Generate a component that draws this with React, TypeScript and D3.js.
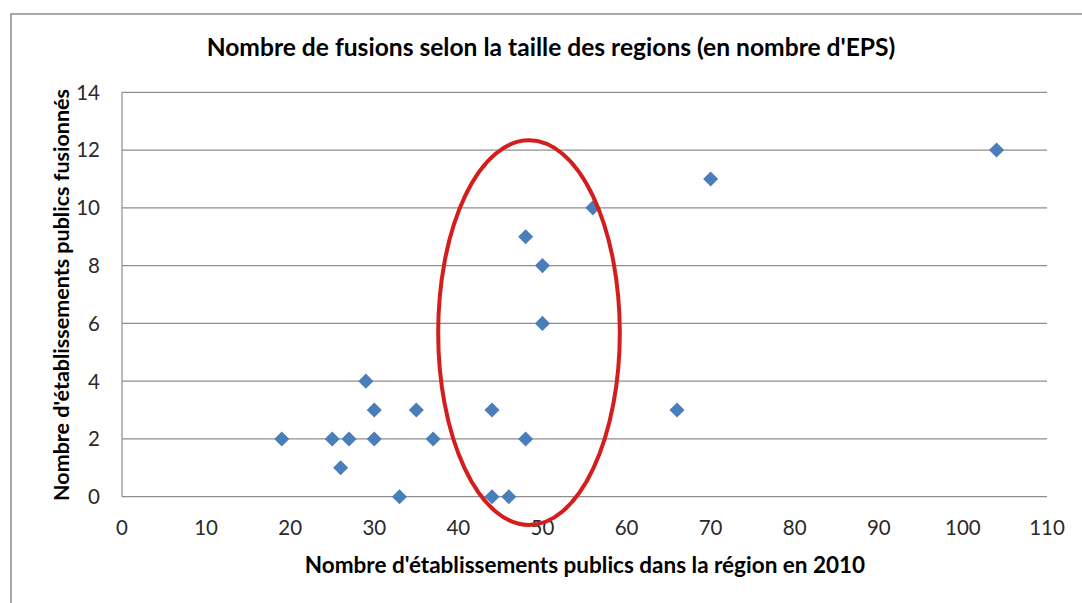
import React from "react";
import * as d3 from "d3";

const xValues = [19, 25, 26, 27, 29, 30, 30, 33, 35, 37, 44, 44, 46, 48, 48, 50, 50, 56, 66, 70, 104];
const yValues = [2, 2, 1, 2, 4, 3, 2, 0, 3, 2, 3, 0, 0, 2, 9, 8, 6, 10, 3, 11, 12];
const xTicks = [0, 10, 20, 30, 40, 50, 60, 70, 80, 90, 100, 110];
const yTicks = [0, 2, 4, 6, 8, 10, 12, 14];
const chartTitle = "Nombre de fusions selon la taille des regions (en nombre d'EPS)";
const xTitle = "Nombre d'établissements publics dans la région en 2010";
const yTitle = "Nombre d'établissements publics fusionnés";
// annotation ellipse in data units: center x, center y, radius x, radius y
const highlight = { cx: 48.4, cy: 5.68, rx: 10.8, ry: 6.66 };

const W = 1082;
const H = 603;
const left = 122;
const right = 1047;
const top = 92.3;
const bottom = 496.7;
const font = "Lato, 'Open Sans', sans-serif";

export default function App() {
  const x = d3.scaleLinear().domain([0, 110]).range([left, right]);
  const y = d3.scaleLinear().domain([0, 14]).range([bottom, top]);
  const diamond = d3.symbol().type(d3.symbolDiamond2).size(145)();
  const pts = xValues.map((v, i) => ({ x: v, y: yValues[i] }));
  return (
    <svg width={W} height={H} style={{ position: "absolute", left: 0, top: 0, background: "#fff" }}>
      <rect x={0} y={0} width={W} height={H} fill="#fff" />
      <rect x={11} y={14} width={W + 20} height={H + 20} fill="#fff" stroke="#8c8c8c" strokeWidth={1.5} />
      {yTicks.map((t) => (
        <line key={"g" + t} x1={left} x2={right} y1={y(t)} y2={y(t)} stroke="#8e8e8e" strokeWidth={1.2} />
      ))}
      <line x1={left} x2={left} y1={top} y2={bottom} stroke="#8e8e8e" strokeWidth={1.2} />
      {yTicks.map((t) => (
        <text key={"yl" + t} x={100} y={y(t)} dy="0.36em" textAnchor="end" fontFamily={font} fontSize={20.5} fill="#2a2a2a">
          {t}
        </text>
      ))}
      {xTicks.map((t) => (
        <text key={"xl" + t} x={x(t)} y={bottom + 38} textAnchor="middle" fontFamily={font} fontSize={20.5} fill="#2a2a2a">
          {t}
        </text>
      ))}
      {pts.map((p, i) => (
        <path key={"p" + i} d={diamond} transform={`translate(${x(p.x)},${y(p.y)})`} fill="#4a7ebb" />
      ))}
      <ellipse
        cx={x(highlight.cx)}
        cy={y(highlight.cy)}
        rx={x(highlight.rx) - x(0)}
        ry={y(0) - y(highlight.ry)}
        fill="none"
        stroke="#d41e1e"
        strokeWidth={4}
      />
      <text x={551} y={56} textAnchor="middle" fontFamily={font} fontWeight="bold" fontSize={24.6} fill="#000">
        {chartTitle}
      </text>
      <text x={585} y={573} textAnchor="middle" fontFamily={font} fontWeight="bold" fontSize={22.5} fill="#000">
        {xTitle}
      </text>
      <text
        transform={`translate(69,${295}) rotate(-90)`}
        textAnchor="middle"
        fontFamily={font}
        fontWeight="bold"
        fontSize={21.5}
        fill="#000"
      >
        {yTitle}
      </text>
    </svg>
  );
}
